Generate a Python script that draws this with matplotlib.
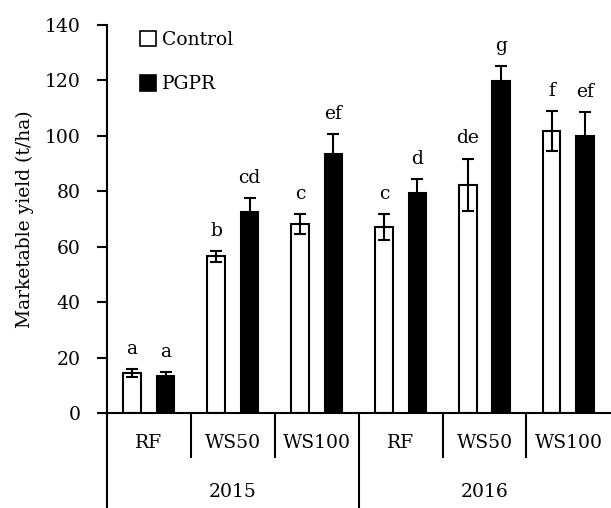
"""Marketable yield by irrigation treatment, Control vs PGPR, 2015-2016."""
import matplotlib
matplotlib.use("Agg")
import matplotlib.pyplot as plt
from matplotlib.patches import Patch
import numpy as np

treatments = ["RF", "WS50", "WS100", "RF", "WS50", "WS100"]
years = ["2015", "2016"]

control = [14.5, 56.5, 68.2, 67.1, 82.4, 101.6]
control_err = [1.5, 2.0, 3.6, 4.7, 9.4, 7.2]
control_letters = ["a", "b", "c", "c", "de", "f"]

pgpr = [13.5, 72.5, 93.6, 79.5, 119.7, 100.0]
pgpr_err = [1.4, 5.0, 7.0, 5.0, 5.3, 8.7]
pgpr_letters = ["a", "cd", "ef", "d", "g", "ef"]

plt.rcParams["font.family"] = ["DejaVu Serif"]
plt.rcParams["font.size"] = 13.5

fig = plt.figure(figsize=(6.11, 5.08), dpi=100)
ax = fig.add_axes([0.175, 0.187, 0.824, 0.764])

x = np.arange(len(treatments))
width = 0.21
lw = 1.5
err_kw = dict(elinewidth=lw, capthick=lw, capsize=4, ecolor="black")

ax.bar(x + 0.30, control, width, color="white", edgecolor="black", linewidth=lw,
       yerr=control_err, error_kw=err_kw)
ax.bar(x + 0.70, pgpr, width, color="black", edgecolor="black", linewidth=lw,
       yerr=pgpr_err, error_kw=err_kw)

for xi, v, e, t in zip(x + 0.30, control, control_err, control_letters):
    ax.annotate(t, (xi, v + e), xytext=(0, 8), textcoords="offset points",
                ha="center", va="bottom")
for xi, v, e, t in zip(x + 0.70, pgpr, pgpr_err, pgpr_letters):
    ax.annotate(t, (xi, v + e), xytext=(0, 8), textcoords="offset points",
                ha="center", va="bottom")

ax.set_xlim(0, len(treatments))
ax.set_ylim(0, 140)
ax.set_yticks(range(0, 141, 20))
ax.set_xticks([])
ax.set_ylabel("Marketable yield (t/ha)", labelpad=8)
ax.tick_params(axis="y", direction="out", length=7, width=lw, pad=12)

for side in ["top", "right"]:
    ax.spines[side].set_visible(False)
for side in ["left", "bottom"]:
    ax.spines[side].set_linewidth(lw)

# two-level category axis
trans = ax.get_xaxis_transform()
for i, name in enumerate(treatments):
    ax.text(i + 0.5, -0.077, name, transform=trans, ha="center", va="center")
for i in range(len(treatments)):
    bottom = -0.26 if i % 3 == 0 else -0.116
    ax.plot([i, i], [0, bottom], transform=trans, color="black", lw=lw,
            clip_on=False, solid_capstyle="butt")
for j, yr in enumerate(years):
    ax.text(j * 3 + 1.5, -0.203, yr, transform=trans, ha="center", va="center")

handles = [Patch(facecolor="white", edgecolor="black", linewidth=1.2, label="Control"),
           Patch(facecolor="black", edgecolor="black", linewidth=1.2, label="PGPR")]
ax.legend(handles=handles, loc="upper left", bbox_to_anchor=(0.065, 0.985),
          frameon=False, borderpad=0, borderaxespad=0, handlelength=0.85,
          handleheight=0.9, handletextpad=0.35, labelspacing=1.4)

fig.savefig("out.png", dpi=100)
